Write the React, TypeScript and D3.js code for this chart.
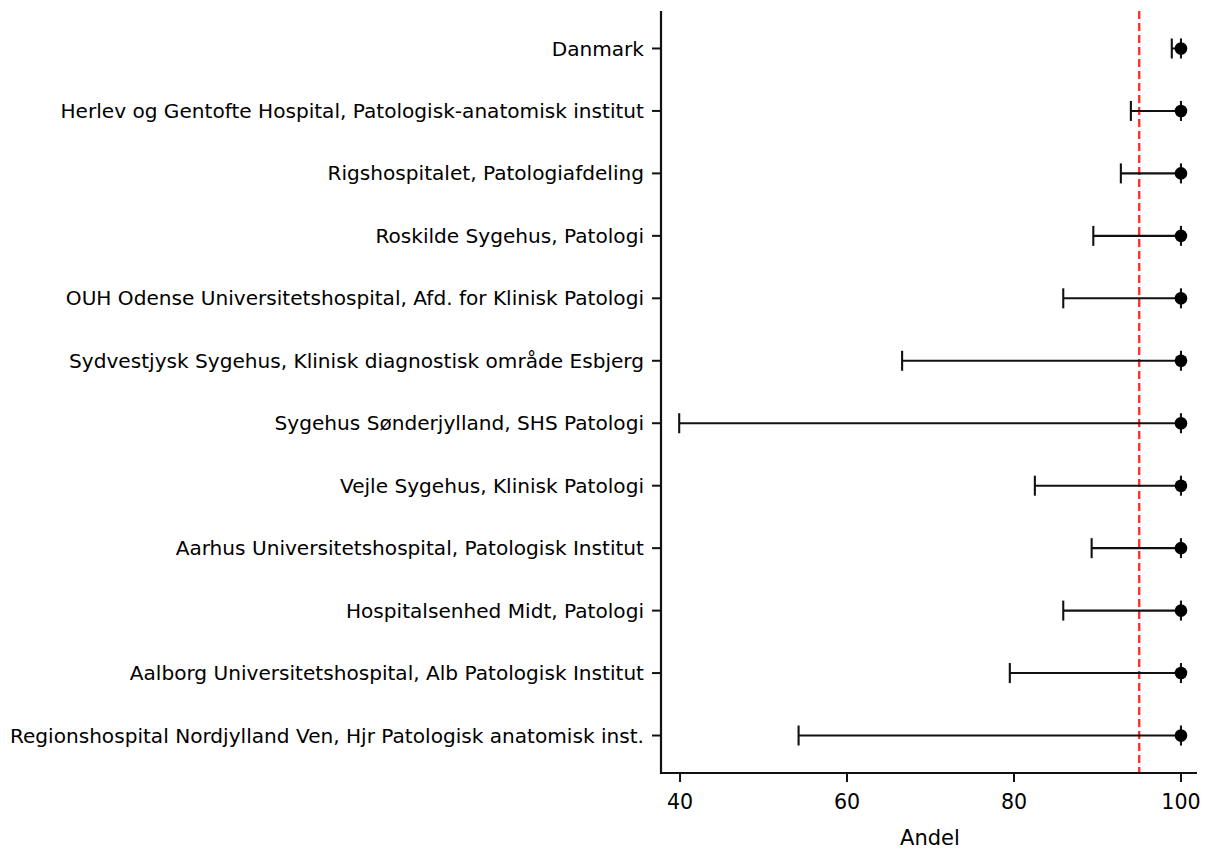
import React from 'react';
import { scaleLinear, scalePoint } from 'd3';

const hospitals = [
  'Danmark',
  'Herlev og Gentofte Hospital, Patologisk-anatomisk institut',
  'Rigshospitalet, Patologiafdeling',
  'Roskilde Sygehus, Patologi',
  'OUH Odense Universitetshospital, Afd. for Klinisk Patologi',
  'Sydvestjysk Sygehus, Klinisk diagnostisk område Esbjerg',
  'Sygehus Sønderjylland, SHS Patologi',
  'Vejle Sygehus, Klinisk Patologi',
  'Aarhus Universitetshospital, Patologisk Institut',
  'Hospitalsenhed Midt, Patologi',
  'Aalborg Universitetshospital, Alb Patologisk Institut',
  'Regionshospital Nordjylland Ven, Hjr Patologisk anatomisk inst.',
];
const andel = [100, 100, 100, 100, 100, 100, 100, 100, 100, 100, 100, 100];
const lower = [98.9, 94.0, 92.8, 89.5, 85.9, 66.6, 39.9, 82.5, 89.3, 85.9, 79.5, 54.2];
const upper = [100, 100, 100, 100, 100, 100, 100, 100, 100, 100, 100, 100];
const target = 95;
const xTicks = [40, 60, 80, 100];

const width = 1209;
const height = 849;
const plot = { left: 661, right: 1197, top: 11, bottom: 773 };
const font = 'DejaVu Sans, sans-serif';

const App = () => {
  const x = scaleLinear().domain([37.72, 101.92]).range([plot.left, plot.right]);
  const y = scalePoint<string>().domain(hospitals).range([plot.top, plot.bottom]).padding(0.6);
  const cap = 10;
  const lw = 2.1;

  return (
    <svg
      width={width}
      height={height}
      style={{ position: 'absolute', left: 0, top: 0, background: '#fff' }}
      fontFamily={font}
    >
      {/* target line */}
      <line
        x1={x(target)} x2={x(target)} y1={plot.top} y2={plot.bottom}
        stroke="#ff2a2a" strokeWidth={2.3} strokeDasharray="8,4"
      />

      {/* error bars and points */}
      {hospitals.map((h, i) => {
        const cy = y(h)!;
        return (
          <g key={h}>
            <line x1={x(lower[i])} x2={x(upper[i])} y1={cy} y2={cy} stroke="#111" strokeWidth={lw} />
            <line x1={x(lower[i])} x2={x(lower[i])} y1={cy - cap} y2={cy + cap} stroke="#111" strokeWidth={lw} />
            <line x1={x(upper[i])} x2={x(upper[i])} y1={cy - cap} y2={cy + cap} stroke="#111" strokeWidth={lw} />
            <circle cx={x(andel[i])} cy={cy} r={6.3} fill="#000" />
          </g>
        );
      })}

      {/* y axis */}
      <line x1={plot.left} x2={plot.left} y1={plot.top} y2={plot.bottom + 1} stroke="#111" strokeWidth={2.2} />
      {hospitals.map(h => (
        <g key={'t' + h} transform={`translate(${plot.left}, ${y(h)})`}>
          <line x1={-9} x2={0} stroke="#111" strokeWidth={2} />
          <text x={-17} dy="0.35em" textAnchor="end" fontSize={20.1} fill="#000">{h}</text>
        </g>
      ))}

      {/* x axis */}
      <line x1={plot.left - 1} x2={plot.right} y1={plot.bottom} y2={plot.bottom} stroke="#111" strokeWidth={2.2} />
      {xTicks.map(t => (
        <g key={t} transform={`translate(${x(t)}, ${plot.bottom})`}>
          <line y1={0} y2={9} stroke="#111" strokeWidth={2} />
          <text y={36} textAnchor="middle" fontSize={20.6} fill="#000">{t}</text>
        </g>
      ))}
      <text x={(plot.left + plot.right) / 2 + 1} y={845} textAnchor="middle" fontSize={21} fill="#000">Andel</text>
    </svg>
  );
};

export default App;
